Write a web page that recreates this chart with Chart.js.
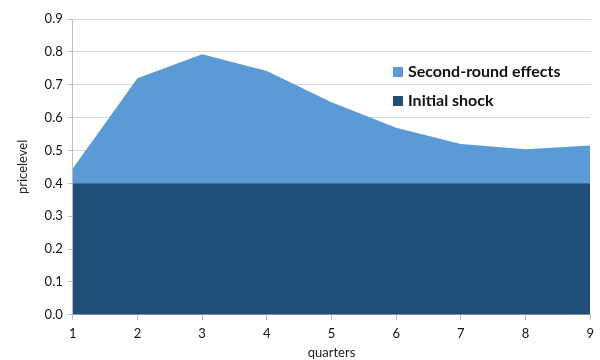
<!DOCTYPE html>
<html>
<head>
<meta charset="utf-8">
<script src="https://cdn.jsdelivr.net/npm/chart.js@4/dist/chart.umd.min.js"></script>
<style>
  html, body { margin: 0; padding: 0; background: #ffffff; }
  #wrap { width: 600px; height: 360px; }
</style>
</head>
<body>
<div id="wrap"><canvas id="c" width="600" height="360"></canvas></div>
<script>
const quarters = ['1', '2', '3', '4', '5', '6', '7', '8', '9'];
const initialShock = [0.4, 0.4, 0.4, 0.4, 0.4, 0.4, 0.4, 0.4, 0.4];
const secondRound = [0.045, 0.32, 0.393, 0.342, 0.247, 0.169, 0.12, 0.104, 0.115];
const yTicks = [0, 0.1, 0.2, 0.3, 0.4, 0.5, 0.6, 0.7, 0.8, 0.9];

const FONT = "Lato, 'Open Sans', sans-serif";

// Legend drawn inside the plot area, top right
const innerLegend = {
  id: 'innerLegend',
  afterDraw(chart) {
    const ctx = chart.ctx;
    const items = [chart.data.datasets[1], chart.data.datasets[0]];
    const x = 393, y0 = 72, gap = 29;
    ctx.save();
    ctx.font = "bold 16px " + FONT;
    ctx.textBaseline = 'middle';
    items.forEach((ds, i) => {
      const y = y0 + i * gap;
      ctx.fillStyle = ds.backgroundColor;
      ctx.fillRect(x, y - 5, 10, 10);
      ctx.fillStyle = '#111111';
      ctx.fillText(ds.label, x + 15, y);
    });
    ctx.restore();
  }
};

new Chart(document.getElementById('c'), {
  type: 'line',
  data: {
    labels: quarters,
    datasets: [
      {
        label: 'Initial shock',
        data: initialShock,
        backgroundColor: '#1F4E79',
        borderWidth: 0,
        pointRadius: 0,
        fill: 'origin',
        tension: 0
      },
      {
        label: 'Second-round effects',
        data: secondRound,
        backgroundColor: '#5B9BD5',
        borderWidth: 0,
        pointRadius: 0,
        fill: '-1',
        tension: 0
      }
    ]
  },
  options: {
    responsive: false,
    animation: false,
    layout: { padding: { left: 15, right: 9, top: 19, bottom: 0 } },
    plugins: {
      legend: { display: false },
      tooltip: { enabled: false }
    },
    scales: {
      x: {
        offset: false,
        grid: {
          drawOnChartArea: false,
          drawTicks: true,
          tickLength: 5,
          color: '#BFBFBF'
        },
        border: { color: '#BFBFBF', width: 1 },
        ticks: {
          color: '#111111',
          font: { family: FONT, size: 13 },
          maxRotation: 0,
          padding: 6
        },
        title: {
          display: true,
          text: 'quarters',
          color: '#222222',
          font: { family: FONT, size: 13 },
          padding: { top: -2, bottom: -1 }
        }
      },
      y: {
        stacked: true,
        min: 0,
        max: 0.9,
        afterBuildTicks(scale) {
          scale.ticks = yTicks.map(v => ({ value: v }));
        },
        grid: {
          color: '#D9D9D9',
          drawTicks: true,
          tickLength: 5,
          tickColor: '#BFBFBF'
        },
        border: { color: '#BFBFBF', width: 1 },
        ticks: {
          color: '#111111',
          font: { family: FONT, size: 13 },
          padding: 5,
          callback: v => Number(v).toFixed(1)
        },
        title: {
          display: true,
          text: 'pricelevel',
          color: '#222222',
          font: { family: FONT, size: 13 },
          padding: { top: 0, bottom: 9 }
        }
      }
    }
  },
  plugins: [innerLegend]
});
</script>
</body>
</html>
